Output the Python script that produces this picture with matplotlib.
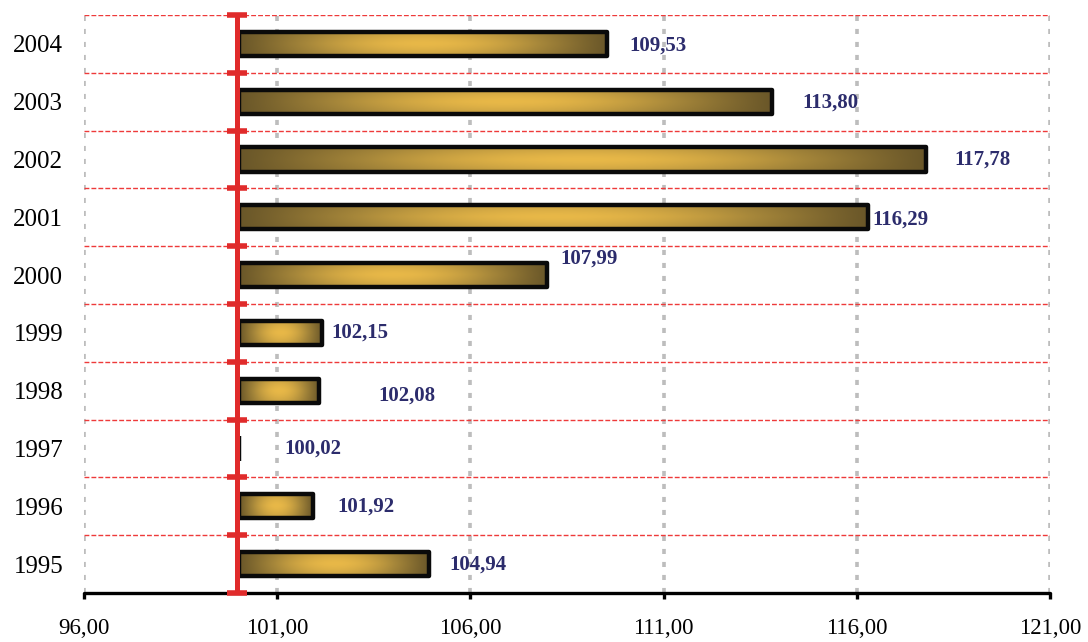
import numpy as np
import matplotlib
matplotlib.use("Agg")
import matplotlib.pyplot as plt
from matplotlib.patches import Rectangle
from matplotlib.colors import LinearSegmentedColormap

years = ["1995", "1996", "1997", "1998", "1999", "2000", "2001", "2002", "2003", "2004"]
values = [104.94, 101.92, 100.02, 102.08, 102.15, 107.99, 116.29, 117.78, 113.80, 109.53]
value_labels = ["104,94", "101,92", "100,02", "102,08", "102,15", "107,99", "116,29", "117,78", "113,80", "109,53"]
x_ticks = [96, 101, 106, 111, 116, 121]
x_tick_labels = ["96,00", "101,00", "106,00", "111,00", "116,00", "121,00"]
base = 100.0

# label offsets in pixels (dx right of bar end, dy downward) as seen in the original
label_dx = [20, 25, 45, 59, 10, 13, 4, 29, 31, 23]
label_dy = [0, 0, 0, 5, 0, -17, 2, 0, 1, 2]

plt.rcParams["font.family"] = ["Liberation Serif", "DejaVu Serif"]

fig = plt.figure(figsize=(10.88, 6.42), dpi=100)
ax = fig.add_axes([84 / 1088, 49 / 642, 966 / 1088, 578 / 642])

ax.set_xlim(96, 121)
ax.set_ylim(-0.5, len(years) - 0.5)

# gold gradient: dark at both ends, bright in the middle, brighter centre row
cmap = LinearSegmentedColormap.from_list("gold", ["#6a5729", "#a5863a", "#e8b848"])
tx = np.linspace(0, 1, 200)
sy = np.linspace(0, 1, 40)
fx = np.sin(np.pi * tx) ** 1.1
gy = 1 - 0.25 * np.abs(2 * sy - 1) ** 1.5
grad = np.outer(gy, fx)

h = 0.42
for i, v in enumerate(values):
    if v - base > 0.1:
        im = ax.imshow(grad, cmap=cmap, vmin=0, vmax=1, aspect="auto",
                       extent=[base, v, i - h / 2, i + h / 2], zorder=3,
                       interpolation="bilinear")
        rect = Rectangle((base, i - h / 2), v - base, h, transform=ax.transData)
        im.set_clip_path(rect)
    ax.add_patch(Rectangle((base, i - h / 2), v - base, h, facecolor="none",
                           edgecolor="#0a0a0a", linewidth=3.2, joinstyle="round", zorder=4))
    ax.annotate(value_labels[i], (v, i), xytext=(label_dx[i] * 0.72, -label_dy[i] * 0.72),
                textcoords="offset points", ha="left", va="center",
                fontsize=15, fontweight="bold", color="#2c2c6c", zorder=6)

# grid
for xt in x_ticks:
    ax.axvline(xt, color="#bdbdbd", linewidth=2.6, linestyle=(0, (1.4, 2.2)), zorder=1)
bounds = np.arange(-0.5, len(years), 1.0)
ax.hlines(bounds[1:], 96, 121, colors="#ee3a3a", linewidth=1.0,
          linestyles=(0, (3.5, 1.5)), zorder=2)

# red base line with caps (slightly left so the tiny 1997 bar peeks out)
ax.plot([base - 0.05, base - 0.05], [bounds[0], bounds[-1]], color="#e02b2b", linewidth=3.6,
        solid_capstyle="butt", zorder=4.5, clip_on=False)
ax.plot([base - 0.05] * len(bounds), bounds, linestyle="none", marker="_", markersize=15,
        markeredgewidth=4, color="#e02b2b", zorder=5, clip_on=False)

ax.set_yticks(range(len(years)))
ax.set_yticklabels(years, fontsize=18)
ax.tick_params(axis="y", length=0, pad=15)
ax.set_xticks(x_ticks)
ax.set_xticklabels(x_tick_labels, fontsize=16.5)
ax.tick_params(axis="x", length=4, width=2.4, direction="out", pad=14, color="black")

for s in ["top", "right", "left"]:
    ax.spines[s].set_visible(False)
ax.spines["bottom"].set_linewidth(2.4)
ax.spines["bottom"].set_capstyle("round")
ax.spines["bottom"].set_zorder(2.5)

fig.savefig("out.png", dpi=100)
